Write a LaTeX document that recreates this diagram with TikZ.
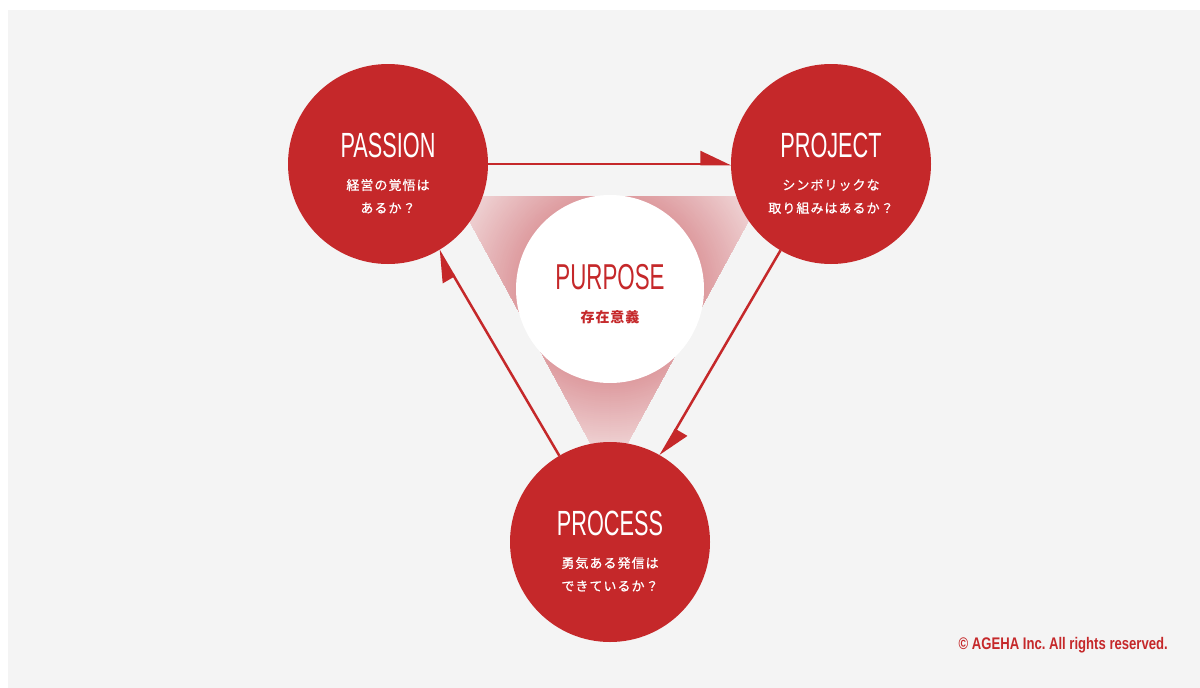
\documentclass[tikz,border=0pt]{standalone}
\usepackage{fontspec}
\setmainfont{Liberation Sans}
\newfontfamily\titlefont[FakeStretch=0.62]{Liberation Sans}
\newfontfamily\copyfont[FakeStretch=0.78]{Liberation Sans}
\newfontfamily\jpfont[LetterSpace=8,FakeBold=0.7]{Noto Sans CJK JP}
\newfontfamily\jpbfont[LetterSpace=6]{Noto Sans CJK JP}
\usetikzlibrary{arrows.meta}
\definecolor{redc}{HTML}{C5282A}
\definecolor{bggray}{HTML}{F4F4F4}
\definecolor{pinkA}{HTML}{DE9CA0}
\definecolor{pinkB}{HTML}{F1D9DA}
\definecolor{pinkC}{HTML}{F4EEEE}
\begin{document}
\begin{tikzpicture}[x=1pt,y=-1pt,
  bigc/.style={circle,fill=redc,minimum size=200pt,inner sep=0pt,outer sep=0pt},
  midc/.style={circle,fill=white,minimum size=188pt,inner sep=0pt,outer sep=0pt},
  ttl/.style={text=white,font=\titlefont\fontsize{35}{35}\selectfont,inner sep=0pt},
  jp/.style={text=white,font=\jpfont\fontsize{13}{13}\selectfont,inner sep=0pt},
  arr/.style={draw=redc,line width=2.5pt,-{Triangle[harpoon,length=28pt,width=26pt]}}]
\useasboundingbox (0,0) rectangle (1200,688);
\fill[white] (0,0) rectangle (1200,688);
\fill[bggray] (8,10) rectangle (1200,688);
\begin{scope}
\clip (456,196) -- (762,196) -- (609,477) -- cycle;
\foreach \r in {250,247,...,170}{
  \pgfmathsetmacro\p{max(0,min(100,(\r-170)/80*100))}
  \fill[pinkC!\p!pinkB] (610,289) circle (\r);
}
\foreach \r in {168,166,...,94}{
  \pgfmathsetmacro\p{max(0,min(100,(\r-95)/73*100))}
  \fill[pinkB!\p!pinkA] (610,289) circle (\r);
}
\end{scope}
\node[bigc] (passion) at (388,164) {};
\node[bigc] (project) at (831,164) {};
\node[bigc] (process) at (610,542) {};
\node[midc] (purpose) at (610,289) {};
\draw[arr] (passion) -- (project);
\draw[arr] (project) -- (process);
\draw[arr] (process) -- (passion);
\node[ttl] (passionT) at (388,145) {PASSION};
\node[jp] (passionA) at (388,185) {経営の覚悟は};
\node[jp] (passionB) at (388,208) {あるか？};
\node[ttl] (projectT) at (831,145) {PROJECT};
\node[jp] (projectA) at (831,185) {シンボリックな};
\node[jp] (projectB) at (831,208) {取り組みはあるか？};
\node[ttl] (processT) at (610,523) {PROCESS};
\node[jp] (processA) at (610,563) {勇気ある発信は};
\node[jp] (processB) at (610,586) {できているか？};
\node[ttl,text=redc,font=\titlefont\fontsize{36}{36}\selectfont] (purposeT) at (610,277) {PURPOSE};
\node[jp,text=redc,font=\jpbfont\bfseries\fontsize{14}{14}\selectfont] (purposeA) at (610,317) {存在意義};
\node[anchor=base east,text=redc,font=\copyfont\bfseries\fontsize{16.8}{17}\selectfont,inner sep=0pt] (copy) at (1168,649) {\frenchspacing © AGEHA Inc. All rights reserved.};
\end{tikzpicture}
\end{document}
